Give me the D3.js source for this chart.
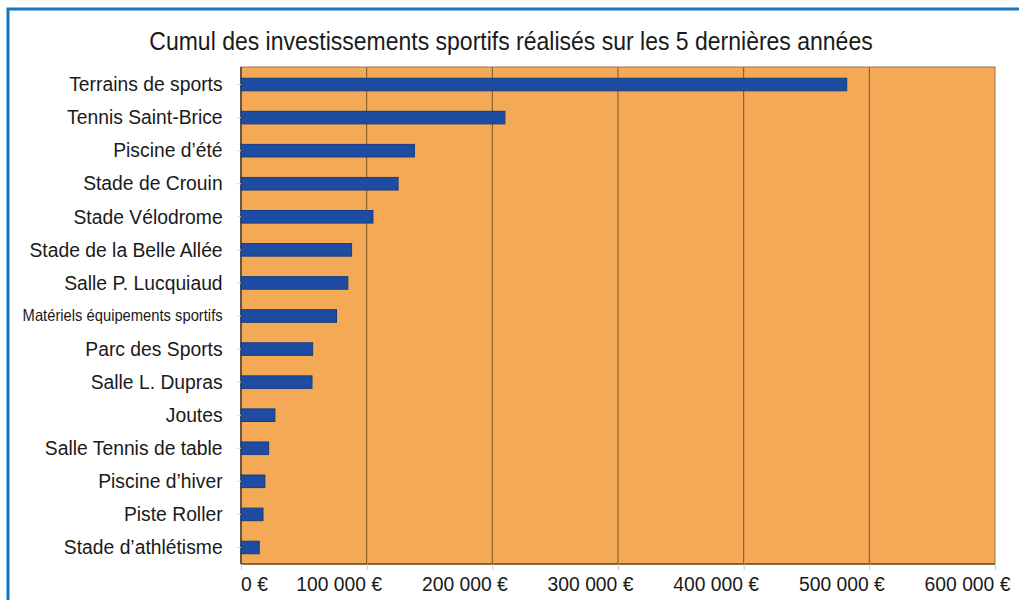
<!DOCTYPE html>
<html lang="fr">
<head>
<meta charset="UTF-8">
<title>Cumul des investissements sportifs</title>
<style>
  body { margin: 0; background: #fff; }
  svg { display: block; font-family: "Liberation Sans", Arial, sans-serif; }
  .frame { stroke: #1479c2; stroke-width: 3; fill: none; }
  .grid line { stroke: #7c5428; stroke-width: 1; }
  .bar { fill: #1d4ca2; stroke: #163c82; stroke-width: 1; }
  .ylab text, .xlab text { fill: #1a1a1a; }
</style>
</head>
<body>
<svg id="chart" width="1019" height="600"></svg>
<script src="https://d3js.org/d3.v7.min.js"></script>
<script>
// chart data
const categories = [
  "Terrains de sports", "Tennis Saint-Brice", "Piscine d’été", "Stade de Crouin",
  "Stade Vélodrome", "Stade de la Belle Allée", "Salle P. Lucquiaud",
  "Matériels équipements sportifs", "Parc des Sports", "Salle L. Dupras",
  "Joutes", "Salle Tennis de table", "Piscine d’hiver", "Piste Roller",
  "Stade d’athlétisme"
];
const amounts = [
  482000, 210000, 138000, 125000, 105000, 88000, 85000,
  76000, 57000, 56500, 27000, 22000, 19000, 17500, 14500
];
const xTicks = [0, 100000, 200000, 300000, 400000, 500000, 600000];
const title = "Cumul des investissements sportifs réalisés sur les 5 dernières années";

const svg = d3.select("#chart");
const plot = { left: 241, right: 995, top: 67, bottom: 564 };
const squeeze = 0.92; // the original font is a bit narrow

// blue frame (top and left)
svg.append("path")
  .attr("class", "frame")
  .attr("d", "M1019,9 H8 V600");

const x = d3.scaleLinear().domain([0, 600000]).range([plot.left, plot.right]);
const y = d3.scaleBand().domain(categories).range([plot.top + 1, plot.bottom])
  .paddingInner(0.62).paddingOuter(0.31);

// plot background
svg.append("rect")
  .attr("x", plot.left).attr("y", plot.top)
  .attr("width", plot.right - plot.left).attr("height", plot.bottom - plot.top)
  .attr("fill", "#f3a956");

// vertical gridlines
svg.append("g").attr("class", "grid")
  .selectAll("line").data(xTicks.slice(1, -1)).join("line")
  .attr("x1", d => x(d)).attr("x2", d => x(d))
  .attr("y1", plot.top).attr("y2", plot.bottom);

// border of plot area
svg.append("rect")
  .attr("x", plot.left).attr("y", plot.top)
  .attr("width", plot.right - plot.left).attr("height", plot.bottom - plot.top)
  .attr("fill", "none").attr("stroke", "#9a7650").attr("stroke-width", 1);
svg.append("line")
  .attr("x1", plot.left).attr("x2", plot.left).attr("y1", plot.top).attr("y2", plot.bottom)
  .attr("stroke", "#4a3a2a").attr("stroke-width", 1.5);
svg.append("line")
  .attr("x1", plot.left).attr("x2", plot.right).attr("y1", plot.bottom).attr("y2", plot.bottom)
  .attr("stroke", "#6a5030").attr("stroke-width", 1.5);

// bars
svg.append("g").selectAll("rect").data(categories).join("rect")
  .attr("class", "bar")
  .attr("x", x(0))
  .attr("y", d => y(d))
  .attr("width", (d, i) => x(amounts[i]) - x(0))
  .attr("height", y.bandwidth());

// y axis labels
const yAxis = svg.append("g").attr("class", "ylab")
  .attr("transform", `translate(${plot.left},0)`)
  .call(d3.axisLeft(y).tickSize(4).tickPadding(16));
yAxis.select(".domain").remove();
yAxis.selectAll("line").attr("stroke", "#d8d8d8");
yAxis.selectAll("text")
  .attr("font-size", 21)
  .attr("transform", `scale(${squeeze},1)`)
  .filter(d => d.startsWith("Matériels"))
  .attr("font-size", 16.5)
  .attr("textLength", 200 / squeeze)
  .attr("lengthAdjust", "spacingAndGlyphs");

// x axis labels
const fmt = d => d3.format(",")(d).replace(/,/g, " ") + " €";
const xAxis = svg.append("g").attr("class", "xlab")
  .attr("transform", `translate(0,${plot.bottom})`)
  .call(d3.axisBottom(x).tickValues(xTicks).tickFormat(fmt).tickSize(6));
xAxis.select(".domain").remove();
xAxis.selectAll("line").attr("stroke", "#c8c8c8");
xAxis.selectAll("text")
  .attr("font-size", 21)
  .attr("y", 27).attr("dy", 0)
  .attr("transform", d => `translate(${d === 0 ? 13 : -28},0) scale(${squeeze},1)`);

// title
svg.append("text")
  .attr("transform", `translate(511,50) scale(${squeeze},1)`)
  .attr("text-anchor", "middle")
  .attr("font-size", 25)
  .attr("fill", "#1a1a1a")
  .text(title);
</script>
</body>
</html>
